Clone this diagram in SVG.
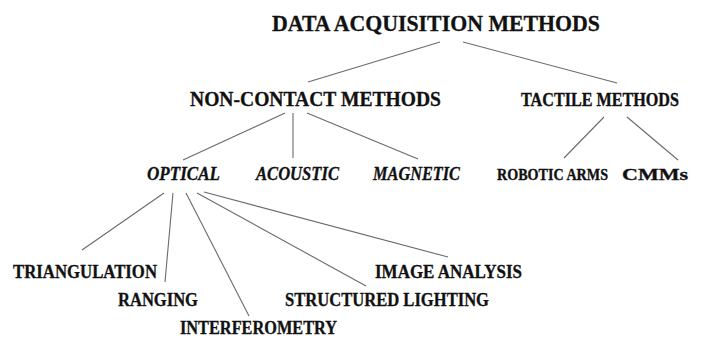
<svg xmlns="http://www.w3.org/2000/svg" width="711" height="338" viewBox="0 0 711 338">
<style>
text{font-family:"Liberation Serif","Times New Roman",serif;font-weight:bold;fill:#111;stroke:#111;stroke-width:0.3}
.t0{font-size:23px}
.t1{font-size:20px}
.t2{font-size:18px}
.it{font-style:italic}
#connectors line{stroke:#6a6a6a;stroke-width:1.1;fill:none}
</style>
<rect width="711" height="338" fill="#fff"/>
<g id="connectors">
<line x1="440" y1="42" x2="308" y2="82"/>
<line x1="463" y1="42" x2="617" y2="83"/>
<line x1="285" y1="113" x2="183" y2="160"/>
<line x1="293" y1="113" x2="293" y2="158"/>
<line x1="307" y1="113" x2="418" y2="159"/>
<line x1="604" y1="117" x2="564" y2="158"/>
<line x1="627" y1="117" x2="678" y2="160"/>
<line x1="164" y1="193" x2="82" y2="250"/>
<line x1="173" y1="193" x2="165" y2="282"/>
<line x1="186" y1="193" x2="249" y2="316"/>
<line x1="197" y1="193" x2="366" y2="286"/>
<line x1="204" y1="192" x2="448" y2="257"/>
</g>
<g id="n-root"><text class="t0" x="272" y="31" textLength="328" lengthAdjust="spacingAndGlyphs">DATA ACQUISITION METHODS</text></g>
<g id="n-noncontact"><text class="t1" x="190" y="106" textLength="251" lengthAdjust="spacingAndGlyphs">NON-CONTACT METHODS</text></g>
<g id="n-tactile"><text x="521" y="106" style="font-size:16px" transform="matrix(1,0,0,1.22,0,-23.32)" textLength="158" lengthAdjust="spacingAndGlyphs">TACTILE METHODS</text></g>
<g id="n-optical"><text class="t2 it" x="147" y="180" textLength="73" lengthAdjust="spacingAndGlyphs">OPTICAL</text></g>
<g id="n-acoustic"><text class="t2 it" x="256" y="180" textLength="83" lengthAdjust="spacingAndGlyphs">ACOUSTIC</text></g>
<g id="n-magnetic"><text class="t2 it" x="373" y="180" textLength="87" lengthAdjust="spacingAndGlyphs">MAGNETIC</text></g>
<g id="n-robotic"><text x="497" y="180" style="font-size:14px" transform="matrix(1,0,0,1.25,0,-45)" textLength="111" lengthAdjust="spacingAndGlyphs">ROBOTIC ARMS</text></g>
<g id="n-cmms"><text x="622" y="180" style="font-size:15px" transform="matrix(1,0,0,1.17,0,-30.6)" textLength="66" lengthAdjust="spacingAndGlyphs">CMMs</text></g>
<g id="n-triangulation"><text class="t2" x="13" y="278" textLength="144" lengthAdjust="spacingAndGlyphs">TRIANGULATION</text></g>
<g id="n-ranging"><text class="t2" x="118" y="306" textLength="80" lengthAdjust="spacingAndGlyphs">RANGING</text></g>
<g id="n-interferometry"><text class="t2" x="180" y="334" textLength="157" lengthAdjust="spacingAndGlyphs">INTERFEROMETRY</text></g>
<g id="n-structured"><text class="t2" x="285" y="306" textLength="204" lengthAdjust="spacingAndGlyphs">STRUCTURED LIGHTING</text></g>
<g id="n-image"><text class="t2" x="375" y="278" textLength="147" lengthAdjust="spacingAndGlyphs">IMAGE ANALYSIS</text></g>
</svg>
